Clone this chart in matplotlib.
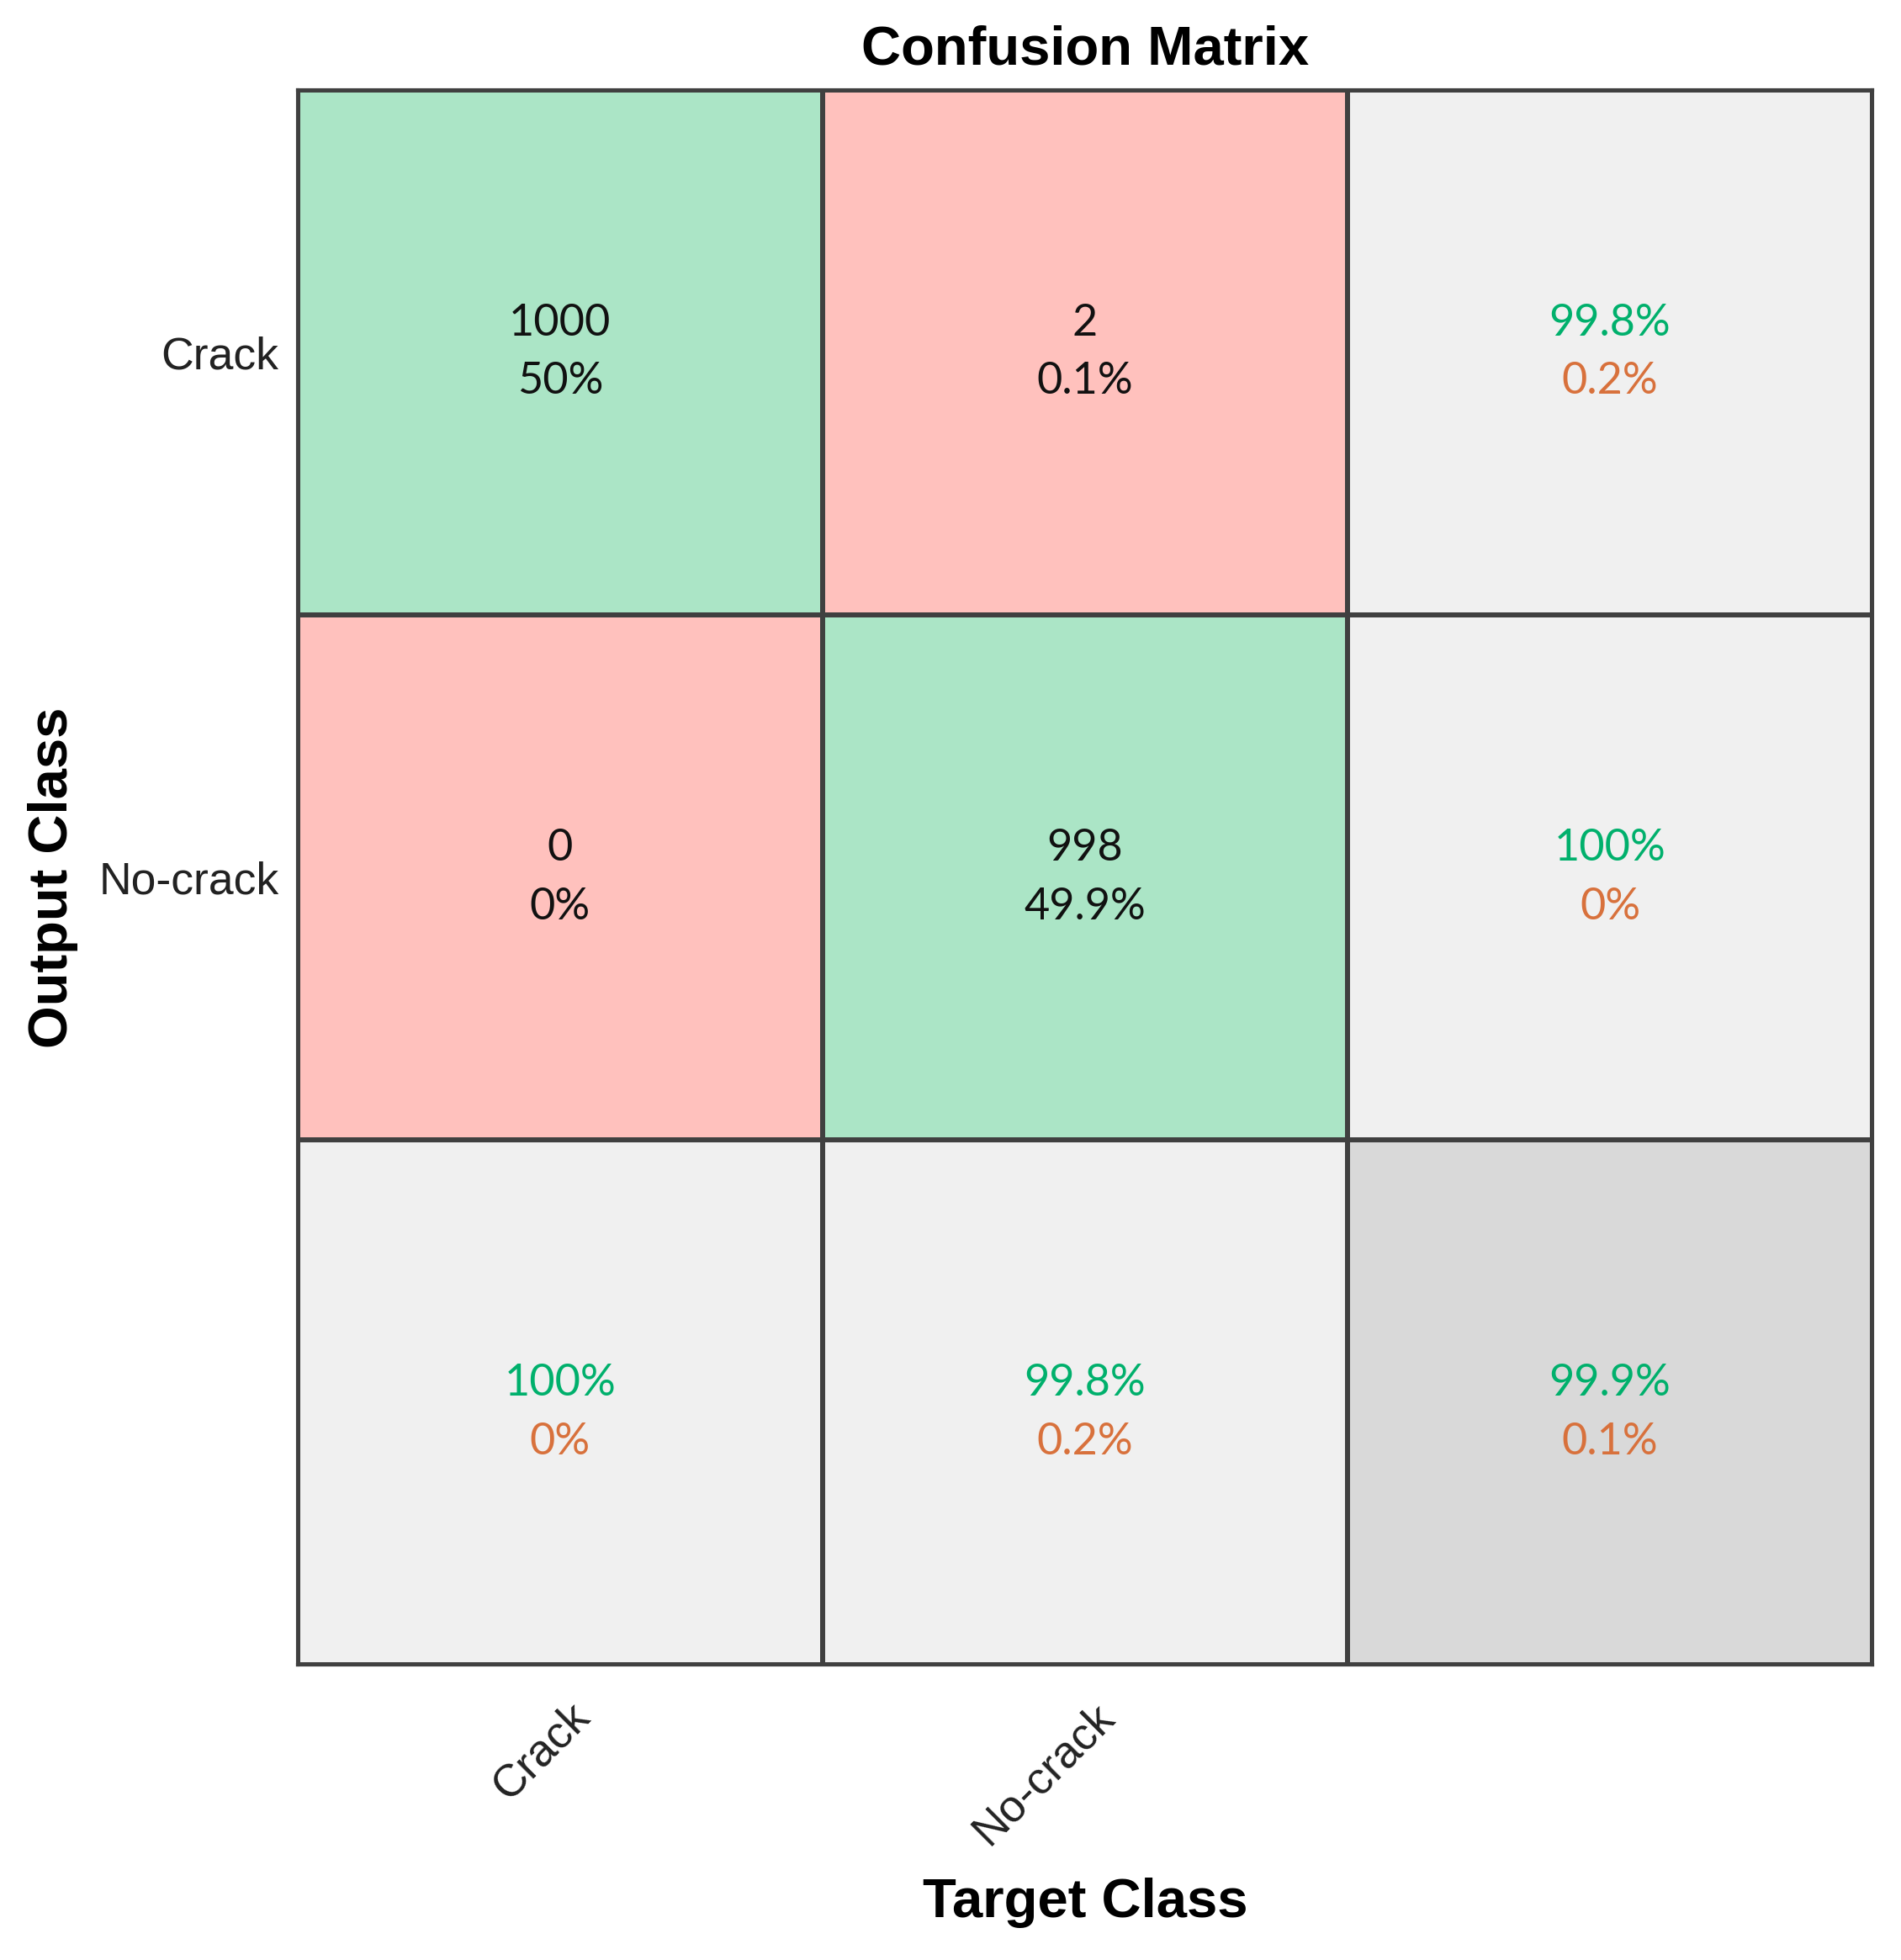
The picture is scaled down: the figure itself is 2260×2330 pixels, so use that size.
import numpy as np
import matplotlib
matplotlib.use("Agg")
import matplotlib.pyplot as plt
from matplotlib.colors import ListedColormap
from matplotlib.transforms import ScaledTranslation

# data
classes = ["Crack", "No-crack"]
counts = [[1000, 2],
          [0, 998]]
cell_pct = [["50%", "0.1%"],
            ["0%", "49.9%"]]
row_good = ["99.8%", "100%"]
row_bad = ["0.2%", "0%"]
col_good = ["100%", "99.8%"]
col_bad = ["0%", "0.2%"]
total_good = "99.9%"
total_bad = "0.1%"

n = len(classes)

# 0 = correct, 1 = wrong, 2 = summary, 3 = overall
kind = np.full((n + 1, n + 1), 2)
for i in range(n):
    for j in range(n):
        kind[i, j] = 0 if i == j else 1
kind[n, n] = 3
cmap = ListedColormap(["#abe5c6", "#ffc1bd", "#f0f0f0", "#d9d9d9"])

fig = plt.figure(figsize=(22.6, 23.3), dpi=100)
ax = fig.add_axes([0.156, 0.1505, 0.8295, 0.8036])

ax.pcolormesh(np.arange(n + 2) - 0.5, np.arange(n + 2) - 0.5, kind,
              cmap=cmap, vmin=-0.5, vmax=3.5,
              edgecolors="#404040", linewidth=3)
ax.set_xlim(-0.5, n + 0.5)
ax.set_ylim(n + 0.5, -0.5)
ax.set_aspect("equal")

cell_font = dict(family=["Lato", "DejaVu Sans"], fontsize=37.5,
                 ha="center", va="center")
green = "#00b06c"
orange = "#d8713c"
dy = 0.056

for i in range(n):
    for j in range(n):
        ax.text(j, i - dy, str(counts[i][j]), color="#111111", **cell_font)
        ax.text(j, i + dy, cell_pct[i][j], color="#111111", **cell_font)
    ax.text(n, i - dy, row_good[i], color=green, **cell_font)
    ax.text(n, i + dy, row_bad[i], color=orange, **cell_font)
    ax.text(i, n - dy + 0.02, col_good[i], color=green, **cell_font)
    ax.text(i, n + dy + 0.02, col_bad[i], color=orange, **cell_font)
ax.text(n, n - dy + 0.02, total_good, color=green, **cell_font)
ax.text(n, n + dy + 0.02, total_bad, color=orange, **cell_font)

for s in ax.spines.values():
    s.set_linewidth(3)
    s.set_color("#404040")

ax.set_xticks(range(n))
ax.set_yticks(range(n))
ax.set_xticklabels(classes, rotation=45, ha="right", va="top",
                   family="Liberation Sans", fontsize=38.5, color="#222222")
ax.set_yticklabels(classes, family="Liberation Sans", fontsize=38.5,
                   color="#222222")
ax.tick_params(length=0)
ax.tick_params(axis="y", pad=16)
ax.tick_params(axis="x", pad=26)
shift = ScaledTranslation(0.45, 0, fig.dpi_scale_trans)
for lab in ax.get_xticklabels():
    lab.set_transform(lab.get_transform() + shift)

lab_font = dict(family="Liberation Sans", fontsize=47, fontweight="bold")
ax.set_title("Confusion Matrix", pad=22, **lab_font)
ax.set_xlabel("Target Class", **lab_font)
ax.set_ylabel("Output Class", **lab_font)
ax.xaxis.set_label_coords(0.5, -0.135)
ax.yaxis.set_label_coords(-0.139, 0.5)

fig.savefig("out.png", dpi=100, facecolor="white")
